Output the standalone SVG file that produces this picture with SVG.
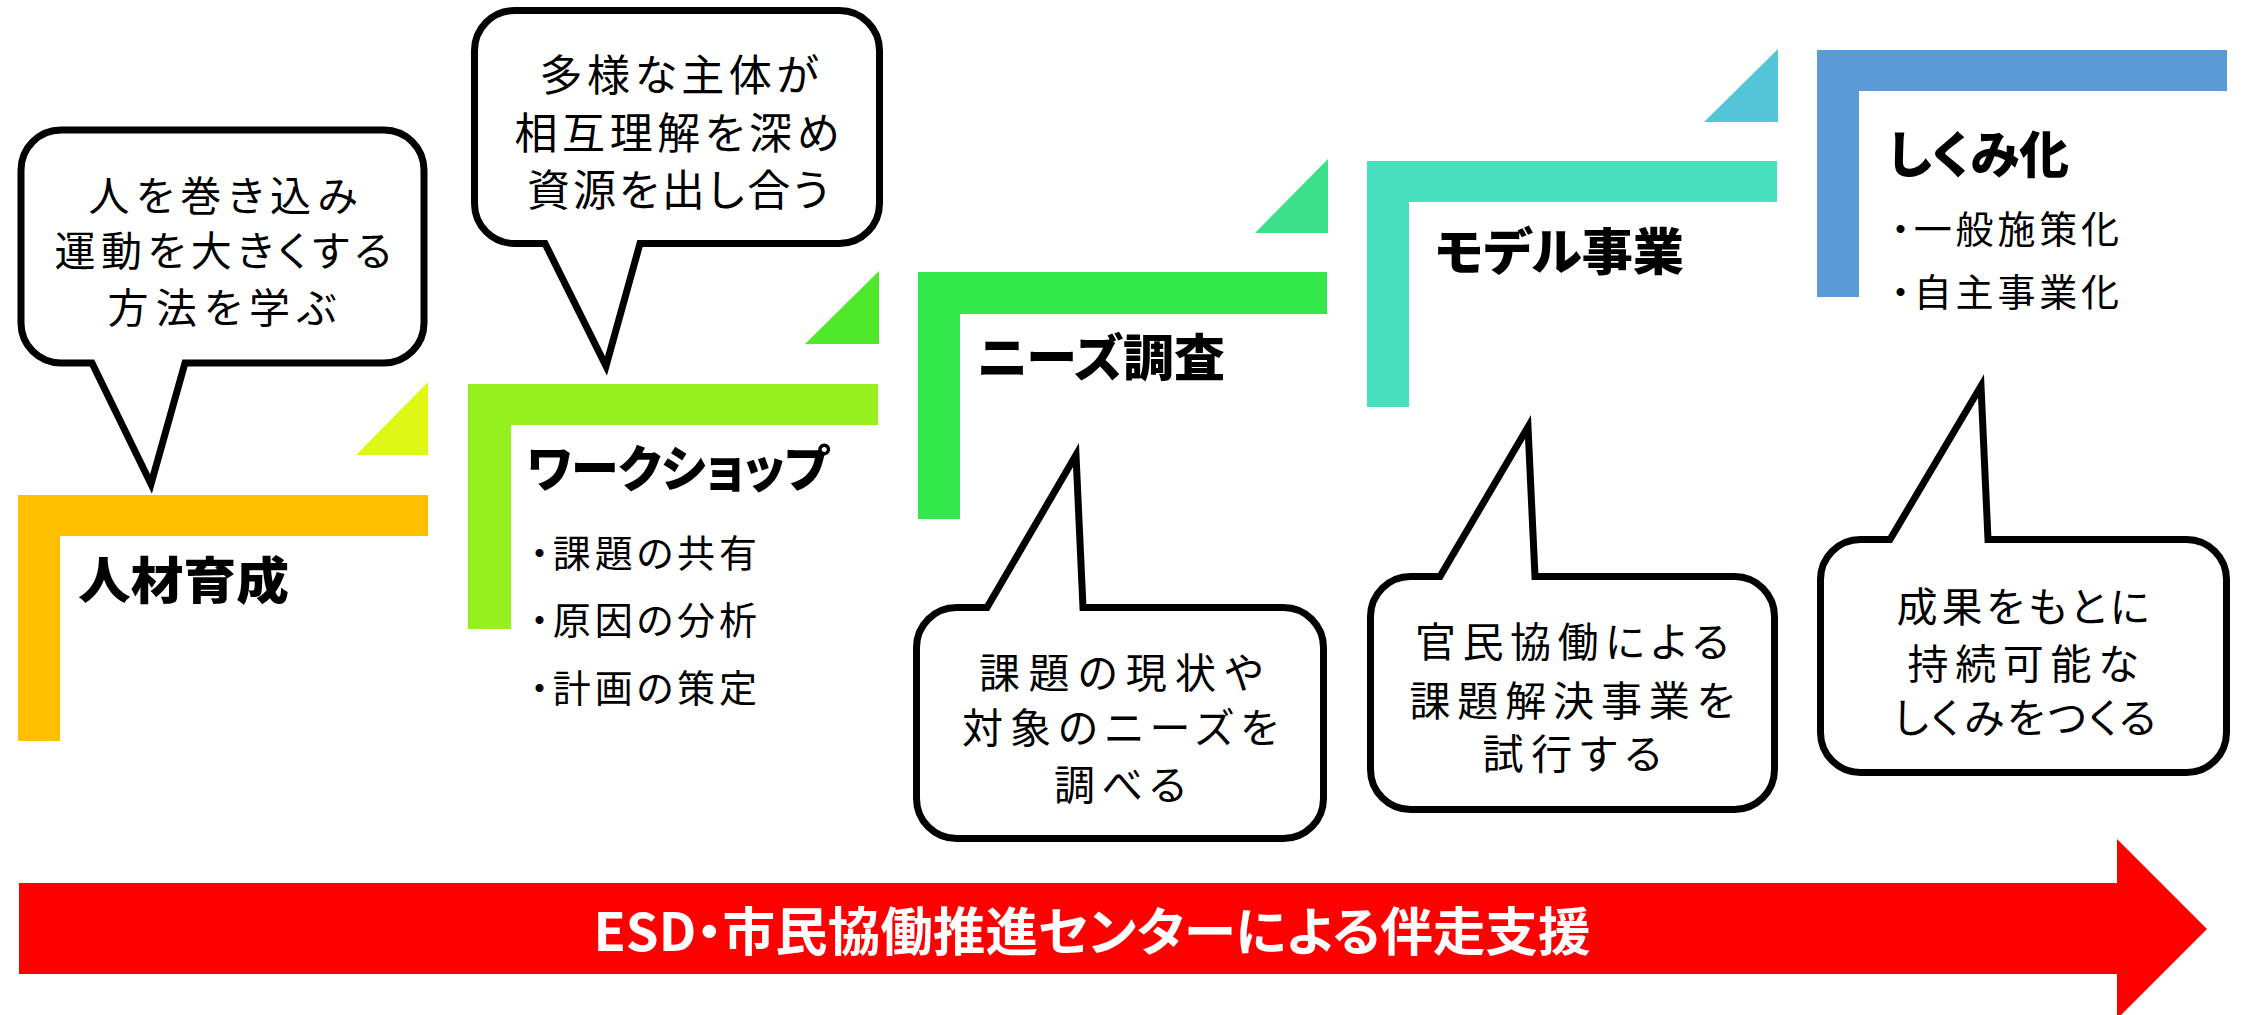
<svg xmlns="http://www.w3.org/2000/svg" width="2242" height="1015" viewBox="0 0 2242 1015">
<style>
.bubble{fill:#fff;stroke:#000;stroke-width:7;stroke-linejoin:miter;stroke-miterlimit:10}
.bt{font-family:"Noto Sans CJK JP","Noto Sans",sans-serif;font-size:41px;fill:#000;text-anchor:middle;font-feature-settings:"palt"}
.ttl{font-family:"Noto Sans CJK JP","Noto Sans",sans-serif;font-size:50px;font-weight:900;fill:#000;font-feature-settings:"palt"}
.bul{font-family:"Noto Sans CJK JP","Noto Sans",sans-serif;font-size:38px;fill:#000;font-feature-settings:"palt"}
.arr{font-family:"Noto Sans CJK JP","Noto Sans",sans-serif;font-size:52px;font-weight:700;fill:#fff;text-anchor:middle;font-feature-settings:"palt"}
</style>
<rect width="2242" height="1015" fill="#fff"/>
<g id="connectors">
<path id="arrow" d="M19,883 H2117 V839 L2207,929 L2117,1019 V974 H19 Z" fill="#FF0000"/>
<polygon points="356,455 428,382 428,455" fill="#DFF714"/>
<polygon points="805,344 879,271 879,344" fill="#50E82A"/>
<polygon points="1255,233 1328,159 1328,233" fill="#3CE08A"/>
<polygon points="1704,122 1778,49 1778,122" fill="#52C6D8"/>
</g>
<text class="arr" x="1092" y="951" textLength="997" lengthAdjust="spacingAndGlyphs">ESD・市民協働推進センターによる伴走支援</text>

<g id="step1">
<path d="M18,495 H428 V536 H60 V741 H18 Z" fill="#FFC000"/>
<text class="ttl" x="78" y="599" textLength="211" lengthAdjust="spacingAndGlyphs">人材育成</text>
</g>
<g id="step2">
<path d="M468,384 H878 V425 H511 V629 H468 Z" fill="#96F01E"/>
<text class="ttl" x="527" y="487" textLength="302" lengthAdjust="spacingAndGlyphs">ワークショップ</text>
<text class="bul" x="530" y="567" textLength="227">・課題の共有</text>
<text class="bul" x="530" y="634" textLength="227">・原因の分析</text>
<text class="bul" x="530" y="702" textLength="227">・計画の策定</text>
</g>
<g id="step3">
<path d="M918,272 H1327 V314 H960 V519 H918 Z" fill="#33E84A"/>
<text class="ttl" x="977" y="376" textLength="248" lengthAdjust="spacingAndGlyphs">ニーズ調査</text>
</g>
<g id="step4">
<path d="M1367,161 H1777 V202 H1409 V407 H1367 Z" fill="#48DFBF"/>
<text class="ttl" x="1435" y="270" textLength="249" lengthAdjust="spacingAndGlyphs">モデル事業</text>
</g>
<g id="step5">
<path d="M1817,50 H2227 V91 H1859 V297 H1817 Z" fill="#5B9BD5"/>
<text class="ttl" x="1888" y="173" textLength="181" lengthAdjust="spacingAndGlyphs">しくみ化</text>
<text class="bul" x="1891" y="243" textLength="228">・一般施策化</text>
<text class="bul" x="1891" y="306" textLength="228">・自主事業化</text>
</g>

<g id="bubble1">
<path class="bubble" d="M61,130 H384 A40,40 0 0 1 424,170 V323 A40,40 0 0 1 384,363 H185 L151,484 L92,363 H61 A40,40 0 0 1 21,323 V170 A40,40 0 0 1 61,130 Z"/>
<text class="bt" x="223" y="211" textLength="269">人を巻き込み</text>
<text class="bt" x="223" y="266" textLength="337">運動を大きくする</text>
<text class="bt" x="222" y="323" textLength="229">方法を学ぶ</text>
</g>
<g id="bubble2">
<path class="bubble" d="M514.5,10.5 H839.5 A40,40 0 0 1 879.5,50.5 V203.5 A40,40 0 0 1 839.5,243.5 H640 L606,366 L545,243.5 H514.5 A40,40 0 0 1 474.5,203.5 V50.5 A40,40 0 0 1 514.5,10.5 Z"/>
<text class="bt" x="679" y="91" textLength="279" style="font-size:43px">多様な主体が</text>
<text class="bt" x="677" y="149" textLength="325" style="font-size:43px">相互理解を深め</text>
<text class="bt" x="678" y="206" textLength="302" style="font-size:43px">資源を出し合う</text>
</g>
<g id="bubble3">
<path class="bubble" d="M956.5,607.5 H987 L1076,455 L1083,607.5 H1283.5 A40,40 0 0 1 1323.5,647.5 V798.5 A40,40 0 0 1 1283.5,838.5 H956.5 A40,40 0 0 1 916.5,798.5 V647.5 A40,40 0 0 1 956.5,607.5 Z"/>
<text class="bt" x="1121" y="688" textLength="284">課題の現状や</text>
<text class="bt" x="1120" y="743" textLength="316">対象のニーズを</text>
<text class="bt" x="1120" y="800" textLength="132">調べる</text>
</g>
<g id="bubble4">
<path class="bubble" d="M1410.5,576.5 H1440 L1528,427 L1535,576.5 H1734.5 A40,40 0 0 1 1774.5,616.5 V769.5 A40,40 0 0 1 1734.5,809.5 H1410.5 A40,40 0 0 1 1370.5,769.5 V616.5 A40,40 0 0 1 1410.5,576.5 Z"/>
<text class="bt" x="1572" y="657" textLength="314">官民協働による</text>
<text class="bt" x="1572" y="716" textLength="325">課題解決事業を</text>
<text class="bt" x="1572" y="769" textLength="179">試行する</text>
</g>
<g id="bubble5">
<path class="bubble" d="M1860.5,539.5 H1890 L1981,386 L1988,539.5 H2186.5 A40,40 0 0 1 2226.5,579.5 V732.5 A40,40 0 0 1 2186.5,772.5 H1860.5 A40,40 0 0 1 1820.5,732.5 V579.5 A40,40 0 0 1 1860.5,539.5 Z"/>
<text class="bt" x="2023" y="622" textLength="253">成果をもとに</text>
<text class="bt" x="2023" y="679" textLength="231">持続可能な</text>
<text class="bt" x="2025" y="733" textLength="262">しくみをつくる</text>
</g>
</svg>
